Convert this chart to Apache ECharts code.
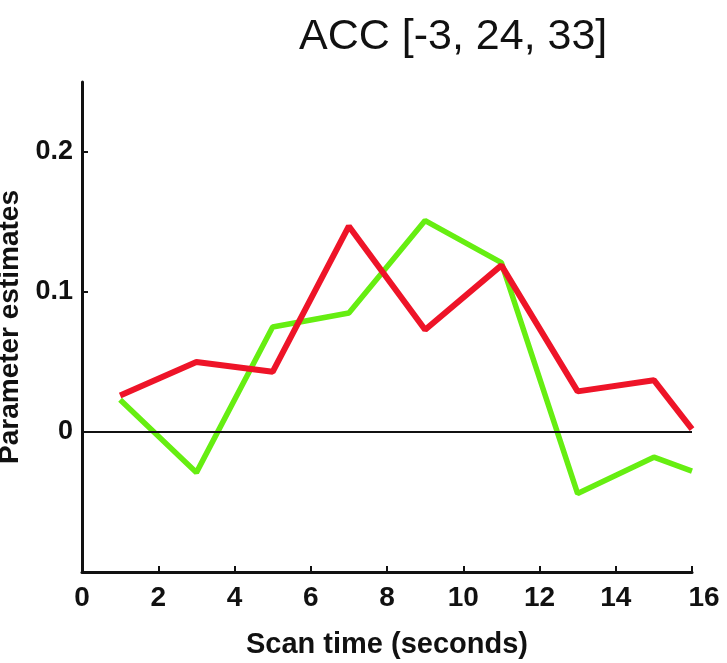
<!DOCTYPE html>
<html>
<head>
<meta charset="utf-8">
<script src="https://cdn.jsdelivr.net/npm/echarts@6/dist/echarts.min.js"></script>
<style>html,body{margin:0;padding:0;background:#fff;}#chart{width:727px;height:663px;}</style>
</head>
<body>
<div id="chart"></div>
<script>
const titleText = 'ACC [-3, 24, 33]';
const xName = 'Scan time (seconds)';
const yName = 'Parameter estimates';
const scanTimes = [1, 3, 5, 7, 9, 11, 13, 15, 16];
const redValues = [0.026, 0.050, 0.043, 0.147, 0.073, 0.119, 0.029, 0.037, 0.002];
const greenValues = [0.023, -0.029, 0.075, 0.085, 0.151, 0.121, -0.044, -0.018, -0.028];
const xTicks = [0, 2, 4, 6, 8, 10, 12, 14, 16];
const yTicks = [-0.1, 0, 0.1, 0.2];
const yLabelTicks = [0, 0.1, 0.2];

const pair = (xs, ys) => xs.map((x, i) => [x, ys[i]]);
const font = '"Liberation Sans", Arial, Helvetica, sans-serif';

const chart = echarts.init(document.getElementById('chart'), null, { renderer: 'canvas' });
chart.setOption({
  animation: false,
  backgroundColor: '#ffffff',
  title: {
    text: titleText,
    left: 294,
    top: 11,
    textStyle: { fontFamily: font, fontSize: 43, fontWeight: 'normal', color: '#111' }
  },
  grid: { left: 82, right: 35, top: 82, bottom: 91, containLabel: false, outerBoundsMode: 'none' },
  xAxis: {
    type: 'value',
    min: 0, max: 16, interval: 2,
    name: xName,
    nameLocation: 'middle',
    nameGap: 58,
    nameTextStyle: { fontFamily: font, fontSize: 29, fontWeight: 'bold', color: '#111' },
    axisLine: { show: true, onZero: false, lineStyle: { color: '#111', width: 3 } },
    axisTick: { show: true, inside: true, length: 6, lineStyle: { color: '#111', width: 2 } },
    splitLine: { show: false },
    axisLabel: {
      margin: 12,
      fontFamily: font, fontSize: 28, fontWeight: 'bold', color: '#111',
      formatter: v => (xTicks.indexOf(v) === xTicks.length - 1 ? '{last|' + v + '}' : String(v)),
      rich: { last: { fontFamily: font, fontSize: 28, fontWeight: 'bold', color: '#111', padding: [0, 0, 6, 24] } }
    }
  },
  yAxis: {
    type: 'value',
    min: -0.1, max: 0.25, interval: 0.1,
    name: yName,
    nameLocation: 'middle',
    nameGap: 49,
    nameRotate: 90,
    nameTextStyle: { fontFamily: font, fontSize: 28, fontWeight: 'bold', color: '#111' },
    axisLine: { show: true, onZero: false, lineStyle: { color: '#111', width: 3 } },
    axisTick: { show: true, inside: true, length: 6, customValues: yTicks, lineStyle: { color: '#111', width: 2 } },
    splitLine: { show: false },
    axisLabel: {
      margin: 9,
      customValues: yLabelTicks,
      fontFamily: font, fontSize: 27, fontWeight: 'bold', color: '#111',
      formatter: v => String(Math.round(v * 10) / 10)
    }
  },
  series: [
    {
      type: 'line',
      data: pair(scanTimes, greenValues),
      symbol: 'none',
      lineStyle: { color: '#66ee11', width: 5.5 },
      z: 2,
      markLine: {
        silent: true,
        symbol: 'none',
        label: { show: false },
        lineStyle: { color: '#111', width: 2, type: 'solid' },
        data: [{ yAxis: 0 }]
      }
    },
    {
      type: 'line',
      data: pair(scanTimes, redValues),
      symbol: 'none',
      lineStyle: { color: '#ee1428', width: 6 },
      z: 3
    }
  ]
});
</script>
</body>
</html>
